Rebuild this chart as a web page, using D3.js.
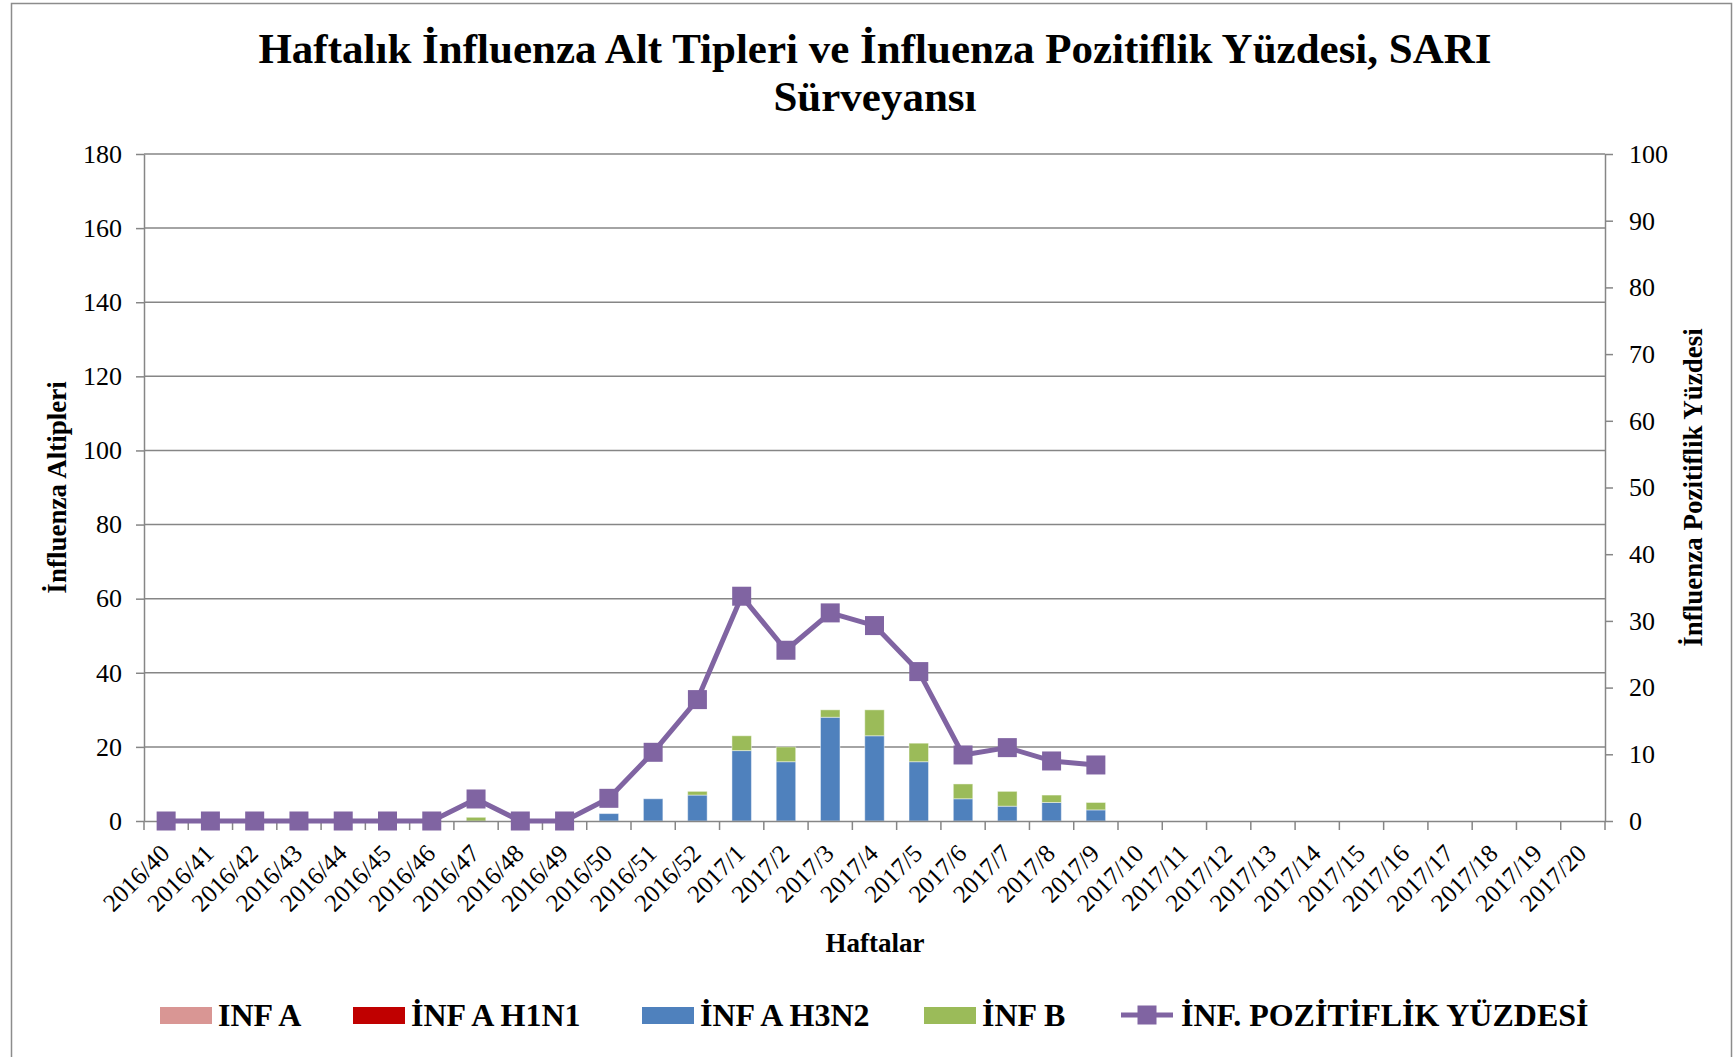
<!DOCTYPE html>
<html>
<head>
<meta charset="utf-8">
<script src="https://cdn.jsdelivr.net/npm/d3@7"></script>
<style>
  body { margin: 0; background: #fff; }
  text { font-family: "Liberation Serif", "Times New Roman", serif; fill: #000; }
</style>
</head>
<body>
<svg id="chart"></svg>
<script>
// weekly categories
var weeks = ["2016/40","2016/41","2016/42","2016/43","2016/44","2016/45","2016/46","2016/47","2016/48","2016/49",
  "2016/50","2016/51","2016/52","2017/1","2017/2","2017/3","2017/4","2017/5","2017/6","2017/7","2017/8","2017/9",
  "2017/10","2017/11","2017/12","2017/13","2017/14","2017/15","2017/16","2017/17","2017/18","2017/19","2017/20"];

// subtype counts (left axis)
var infA  = [0,0,0,0,0,0,0,0,0,0, 0,0,0,0,0,0,0,0,0,0,0,0, 0,0,0,0,0,0,0,0,0,0,0];
var h1n1  = [0,0,0,0,0,0,0,0,0,0, 0,0,0,0,0,0,0,0,0,0,0,0, 0,0,0,0,0,0,0,0,0,0,0];
var h3n2  = [0,0,0,0,0,0,0,0,0,0, 2,6,7,19,16,28,23,16,6,4,5,3, 0,0,0,0,0,0,0,0,0,0,0];
var infB  = [0,0,0,0,0,0,0,1,0,0, 0,0,1,4,4,2,7,5,4,4,2,2, 0,0,0,0,0,0,0,0,0,0,0];

// positivity percent (right axis)
var positivity = [0,0,0,0,0,0,0,3.3,0,0, 3.4,10.3,18.2,33.7,25.6,31.2,29.3,22.4,9.9,11.0,9.0,8.4,
  null,null,null,null,null,null,null,null,null,null,null];

var leftTicks = d3.range(0, 181, 20);
var rightTicks = d3.range(0, 101, 10);

var seriesNames = ["INF A", "İNF A H1N1", "İNF A H3N2", "İNF B"];
var seriesColors = ["#D99694", "#C00000", "#4F81BD", "#9BBB59"];
var lineName = "İNF. POZİTİFLİK YÜZDESİ";
var lineColor = "#8064A2";

var W = 1735, H = 1057;
var plot = { left: 144, right: 1605, top: 154, bottom: 821 };

var svg = d3.select('#chart').attr('width', W).attr('height', H);

// outer chart frame
svg.append('rect')
  .attr('x', 11.5).attr('y', 3.5)
  .attr('width', 1720).attr('height', 1070)
  .attr('fill', 'none').attr('stroke', '#8c8c8c').attr('stroke-width', 1.5);

var x = d3.scaleBand().domain(weeks).range([plot.left, plot.right]).paddingInner(0).paddingOuter(0);
var yL = d3.scaleLinear().domain([0, 180]).range([plot.bottom, plot.top]);
var yR = d3.scaleLinear().domain([0, 100]).range([plot.bottom, plot.top]);

// gridlines
svg.append('g').selectAll('line').data(leftTicks.slice(1)).enter()
  .append('line')
    .attr('x1', plot.left).attr('x2', plot.right)
    .attr('y1', function(d){ return yL(d); }).attr('y2', function(d){ return yL(d); })
    .attr('stroke', '#868686').attr('stroke-width', 1.5);

// stacked bars
var table = weeks.map(function(w, i) {
  return { week: w, s0: infA[i], s1: h1n1[i], s2: h3n2[i], s3: infB[i] };
});
var stack = d3.stack().keys(["s0","s1","s2","s3"])(table);
var barW = x.bandwidth() * 0.44;

svg.append('g').selectAll('g').data(stack).enter()
  .append('g')
    .attr('fill', function(d, i){ return seriesColors[i]; })
  .selectAll('rect').data(function(d){ return d; }).enter()
  .filter(function(d){ return d[1] - d[0] > 0; })
  .append('rect')
    .attr('x', function(d){ return x(d.data.week) + (x.bandwidth() - barW) / 2; })
    .attr('width', barW)
    .attr('y', function(d){ return yL(d[1]); })
    .attr('height', function(d){ return yL(d[0]) - yL(d[1]); })
    .attr('stroke', 'rgba(255,255,255,0.45)').attr('stroke-width', 1);

// axes
var axisColor = '#868686';
function styleAxis(g) {
  g.selectAll('.domain').attr('stroke', axisColor).attr('stroke-width', 1.5);
  g.selectAll('.tick line').attr('stroke', axisColor).attr('stroke-width', 1.5);
  g.selectAll('.tick text').attr('fill', '#000')
    .style('font-family', '"Liberation Serif", serif').style('font-size', '26px');
}

svg.append('g')
  .attr('transform', 'translate(' + plot.left + ',0)')
  .call(d3.axisLeft(yL).tickValues(leftTicks).tickSize(8).tickPadding(14).tickSizeOuter(0))
  .call(styleAxis);

svg.append('g')
  .attr('transform', 'translate(' + plot.right + ',0)')
  .call(d3.axisRight(yR).tickValues(rightTicks).tickSize(8).tickPadding(16).tickSizeOuter(0))
  .call(styleAxis);

var xAxis = svg.append('g')
  .attr('transform', 'translate(0,' + plot.bottom + ')')
  .call(d3.axisBottom(x).tickSize(0).tickPadding(0).tickSizeOuter(0))
  .call(styleAxis);
xAxis.selectAll('.tick text')
  .style('font-size', '25px')
  .attr('text-anchor', 'end')
  .attr('x', 0).attr('y', 0).attr('dy', 0)
  .attr('transform', 'translate(5,34) rotate(-45)');
// tick marks between categories
xAxis.selectAll('line.cat-tick').data(weeks.concat(['end'])).enter()
  .append('line')
    .attr('class', 'cat-tick')
    .attr('x1', function(d, i){ return plot.left + i * x.step(); })
    .attr('x2', function(d, i){ return plot.left + i * x.step(); })
    .attr('y1', 0).attr('y2', 9)
    .attr('stroke', axisColor).attr('stroke-width', 1.5);

// positivity line
var line = d3.line()
  .defined(function(d){ return d != null; })
  .x(function(d, i){ return x(weeks[i]) + x.bandwidth() / 2; })
  .y(function(d){ return yR(d); });

svg.append('path')
  .datum(positivity)
  .attr('d', line)
  .attr('fill', 'none')
  .attr('stroke', lineColor).attr('stroke-width', 5).attr('stroke-linejoin', 'round');

var mk = 19;
svg.append('g').selectAll('rect').data(positivity).enter()
  .filter(function(d){ return d != null; })
  .append('rect')
    .attr('x', function(d, i){ return x(weeks[i]) + x.bandwidth() / 2 - mk / 2; })
    .attr('y', function(d){ return yR(d) - mk / 2; })
    .attr('width', mk).attr('height', mk)
    .attr('fill', lineColor);

// titles
var title = svg.append('text')
  .attr('x', 875).attr('text-anchor', 'middle')
  .style('font-size', '43px').style('font-weight', 'bold');
title.append('tspan').attr('x', 875).attr('y', 63)
  .text('Haftalık İnfluenza Alt Tipleri ve İnfluenza Pozitiflik Yüzdesi, SARI');
title.append('tspan').attr('x', 875).attr('y', 111).text('Sürveyansı');

svg.append('text')
  .attr('transform', 'translate(66,' + ((plot.top + plot.bottom) / 2) + ') rotate(-90)')
  .attr('text-anchor', 'middle')
  .style('font-size', '27px').style('font-weight', 'bold')
  .text('İnfluenza Altipleri');

svg.append('text')
  .attr('transform', 'translate(1702,' + ((plot.top + plot.bottom) / 2) + ') rotate(-90)')
  .attr('text-anchor', 'middle')
  .style('font-size', '27px').style('font-weight', 'bold')
  .text('İnfluenza Pozitiflik Yüzdesi');

svg.append('text')
  .attr('x', 875).attr('y', 952)
  .attr('text-anchor', 'middle')
  .style('font-size', '27px').style('font-weight', 'bold')
  .text('Haftalar');

// legend
var legendY = 1015;
var legendX = [160, 353, 642, 924];
var legend = svg.append('g');
seriesNames.forEach(function(name, i) {
  legend.append('rect')
    .attr('x', legendX[i]).attr('y', legendY - 8)
    .attr('width', 52).attr('height', 17)
    .attr('fill', seriesColors[i]);
  legend.append('text')
    .attr('x', legendX[i] + 58).attr('y', legendY + 11)
    .style('font-size', '32px').style('font-weight', 'bold')
    .text(name);
});
legend.append('line')
  .attr('x1', 1121).attr('x2', 1173).attr('y1', legendY).attr('y2', legendY)
  .attr('stroke', lineColor).attr('stroke-width', 5);
legend.append('rect')
  .attr('x', 1147 - mk / 2).attr('y', legendY - mk / 2)
  .attr('width', mk).attr('height', mk).attr('fill', lineColor);
legend.append('text')
  .attr('x', 1181).attr('y', legendY + 11)
  .style('font-size', '32px').style('font-weight', 'bold')
  .text(lineName);
</script>
</body>
</html>
